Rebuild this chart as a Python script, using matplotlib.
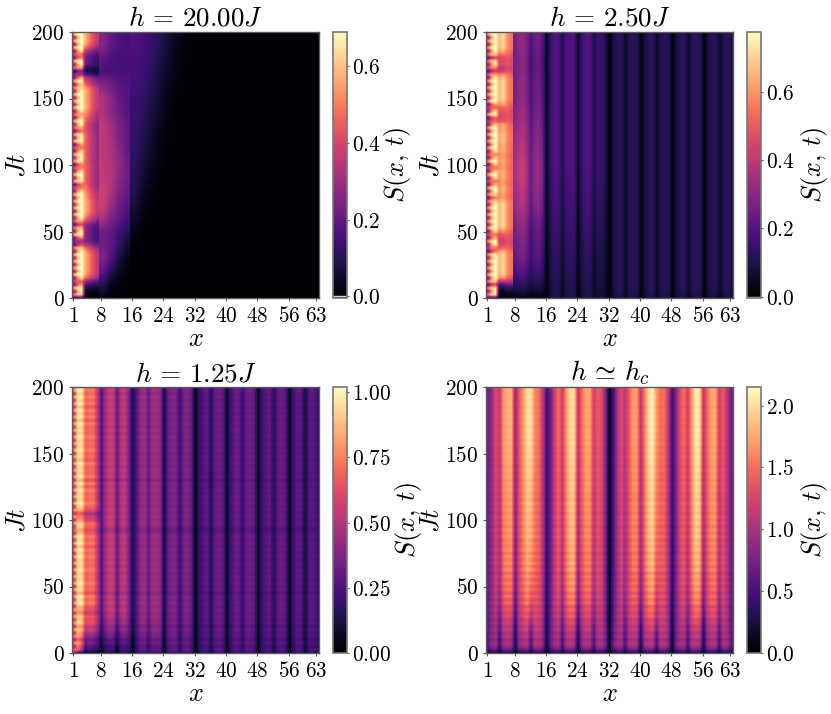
import numpy as np
import matplotlib
matplotlib.use("Agg")
import matplotlib.pyplot as plt
from matplotlib.cm import ScalarMappable
from matplotlib.colors import Normalize
from matplotlib.ticker import FormatStrFormatter

plt.rcParams['mathtext.fontset'] = 'cm'
plt.rcParams['font.family'] = 'DejaVu Sans'

titles = [r'$h\,=\,20.00J$', r'$h\,=\,2.50J$', r'$h\,=\,1.25J$', r'$h\,\simeq\,h_c$']
x_ticks = [1, 8, 16, 24, 32, 40, 48, 56, 63]
t_ticks = [0, 50, 100, 150, 200]
vmaxes = [0.69, 0.775, 1.02, 2.15]
cbar_ticks = [[0, .2, .4, .6], [0, .2, .4, .6], [0, .25, .5, .75, 1.0], [0, .5, 1, 1.5, 2]]
cbar_fmt = ['$%.1f$', '$%.1f$', '$%.2f$', '$%.1f$']
cbar_label_x = [3.5, 3.72, 4.3, 3.72]

# rows every 2.5 Jt: fast oscillation at the edge site
comb = [.60,1,.40,1,.42,1,.38,1,.42,1,
        .40,1,.42,1,.38,1,.42,1,.40,1,
        .38,1,.42,1,.40,1,.38,1,.42,1,
        .40,1,.42,1,.38,1,.40,1,.42,1,
        .38,1,.42,1,.40,1,.38,1,.42,1,
        .40,1,.42,1,.38,1,.40,1,.42,1,
        .38,1,.42,1,.40,1,.38,1,.42,1,
        .40,1,.42,1,.38,1,.40,1,.42,1,.8]

# Panel 1, sites 1-7
blob1 = [.20,.90,1,1,.80,.65,.95,1,1,1,
         1,1,1,1,1,.90,.60,.45,.75,1,
         1,.85,.60,.80,1,1,1,1,1,1,
         1,1,.95,.70,.70,.95,1,1,.95,.70,
         .75,.95,1,1,.90,.70,.80,1,1,.95,
         .70,.80,1,1,.90,.80,.95,1,1,1,
         1,1,1,.90,.90,1,.85,.45,.40,.80,
         1,1,.75,.70,.95,1,1,1,1,1,.95]
wide1 = [.02,.05,.08,.15,.30,.50,.80,.95,1,1,
         1,1,1,1,.95,.80,.60,.45,.45,.45,
         .45,.45,.50,.70,.85,.95,1,1,1,1,
         .95,.95,.90,.85,.80,.80,.80,.80,.80,.80,
         .80,.78,.80,.78,.80,.78,.80,.78,.80,.78,
         .75,.75,.75,.80,.85,.90,.95,1,1,1,
         1,1,1,.95,.80,.70,.60,.30,.15,.20,
         .35,.40,.40,.45,.60,.80,.95,1,1,1,1]
peak1 = [.56, .69, .69, .58, .50, .42, .36]
floor1 = [0, 0, 0, 0]

# Panel 1, sites 8-15 and 16-31, rows every 10 Jt
outer1a = [[.02,.00,.00,.00],[.10,.03,.01,.00],[.20,.10,.04,.01],[.26,.18,.08,.03],
           [.22,.20,.12,.06],[.22,.20,.15,.10],[.33,.25,.20,.15],[.38,.30,.22,.18],
           [.38,.33,.25,.20],[.36,.34,.27,.22],[.36,.34,.28,.22],[.36,.33,.27,.20],
           [.36,.32,.25,.20],[.36,.30,.24,.20],[.33,.27,.22,.18],[.33,.27,.20,.18],
           [.26,.22,.19,.17],[.16,.16,.16,.16],[.20,.17,.16,.16],[.26,.20,.17,.16],
           [.26,.20,.17,.16]]
outer1b = [[0,0,0,0,0,0],[0,0,0,0,0,0],[0,0,0,0,0,0],[0,0,0,0,0,0],
           [.01,0,0,0,0,0],[.03,0,0,0,0,0],[.05,.01,0,0,0,0],[.07,.02,0,0,0,0],
           [.09,.03,.01,0,0,0],[.10,.05,.01,0,0,0],[.11,.06,.02,0,0,0],[.12,.07,.03,.005,0,0],
           [.12,.08,.04,.01,0,0],[.13,.09,.05,.015,0,0],[.14,.10,.06,.02,0,0],[.14,.11,.07,.03,.005,0],
           [.15,.12,.08,.04,.01,0],[.15,.13,.09,.05,.02,0],[.16,.14,.10,.06,.025,.003],
           [.17,.14,.11,.07,.03,.005],[.17,.15,.12,.08,.035,.005]]

# Panel 2, sites 1-7
blob2 = [.20,.95,1,.95,.60,.90,1,1,1,1,
         1,1,1,.95,.70,.70,1,1,.85,.70,
         .95,1,1,1,1,1,1,1,1,.90,
         .75,.90,1,1,.85,.70,.95,1,.90,.70,
         .90,1,.90,.75,.95,1,1,1,1,1,
         1,1,.90,.65,.70,1,.95,.65,.80,1,
         1,1,1,1,1,1,1,.80,.55,.75,
         1,.90,.60,.90,1,1,1,1,1,1,.95]
wide2 = [.05,.10,.15,.25,.40,.70,.95,1,1,1,
         1,1,1,1,.90,.70,.60,.55,.60,.65,
         .80,.95,1,1,1,1,1,1,1,.95,
         .85,.85,.90,.90,.85,.85,.90,.90,.90,.85,
         .85,.90,.85,.85,.90,.90,.90,.95,.95,.95,
         .90,.90,.85,.65,.60,.60,.65,.70,.85,.95,
         1,1,1,1,1,1,.95,.80,.55,.50,
         .60,.60,.60,.75,.90,1,1,1,1,1,1]
onset2 = [.05,.10,.20,.35,.55,.75,.90,.97] + [1.0] * 73
peak2 = [.60, .77, .77, .66, .72, .60, .55]
floor2 = [.20, .10, .55, .60]

# Panel 2, sites 8-63
profile2 = [.32,.36,.38,.33,.22,.28,.30,.24,
            .04,.14,.20,.20,.10,.18,.20,.20,.05,.15,.20,.20,.10,.15,.15,.10,
            .015,.08,.11,.11,.05,.10,.11,.10,.015,.08,.11,.11,.05,.10,.11,.10,
            .015,.08,.11,.11,.05,.10,.11,.10,.015,.08,.11,.10,.05,.10,.11,.08]
gain2a = [.08,.35,.55,.70,.75,.80,.90,1,1.05,1.1,1.1,1.05,1,.95,.90,.85,.85,.80,.80,.85,.85]
gain2b = [.50,.55,.60,.65,.70,.75,.80,.85,.90,.95,1,1,1,1,1,1,1,1,1,1,1]
gain2c = [.90,1.1,1.1,1.1,1.1,1.1,1.1,1.1,1.1,1.1,1.1,1.1,1.1,1.1,1.1,1.1,1.1,1.1,1.1,1.1,1.1]

# Panel 3
late3 = [.78,.96,.96,.70,.72,.72,.55,.27,.44,.55,.55,.30,.50,.53,.38,.12,
         .27,.41,.45,.30,.45,.45,.41,.10,.32,.37,.37,.21,.35,.37,.30,.03,
         .20,.27,.30,.15,.30,.33,.30,.06,.22,.32,.32,.20,.32,.33,.30,.05,
         .22,.28,.30,.15,.30,.32,.28,.05,.22,.30,.28,.10,.27,.30,.22]
early3 = [.75,.80,.60,.15,.25,.20,.18,.02,.17,.20,.20,.03,.20,.22,.20,.03,
          .20,.30,.30,.20,.30,.30,.30,.03,.27,.32,.32,.18,.30,.32,.25,.03,
          .18,.25,.27,.13,.27,.30,.27,.05,.20,.29,.29,.18,.29,.30,.27,.04,
          .20,.25,.27,.13,.27,.29,.25,.04,.20,.27,.25,.09,.24,.27,.20]
rise3 = [0,.10,.20,.30,.35,.45,.55,.65,.75,.80,.85,.90,.95] + [1.0] * 68
ripple3 = [.70,.96,.86,1.0,.86,1.0,.96,1.04,.88,1.04,
           .96,1.04,.96,1.04,.96,1.04,.96,1.04,.88,1.04,
           .96,1.04,.96,1.04,.96,1.04,.96,1.04,.96,1.04,
           .96,1.04,.96,1.04,.96,1.04,.96,.86,.96,1.04,
           .96,1.04,.96,1.04,.96,1.04,.96,1.04,.96,1.04,
           .96,1.04,.88,1.04,.96,1.04,.96,1.04,.96,1.04,
           .96,1.04,.96,1.04,.96,1.04,.96,1.04,.96,1.04,
           .96,1.04,.96,1.04,.96,1.04,.96,1.04,.96,1.04,.96]
left3 = [.35,.9,1,1,.9,.95,1,1,1,1,
         1,.95,.85,.85,.95,1,1,1,1,.95,
         1,1,1,.95,1,1,1,.95,1,1,
         1,1,.95,1,1,1,.95,1,1,.95,
         .85,.75,.70,.85,1,1,1,.95,1,1,
         .95,1,1,1,1,.95,1,1,.95,.95,
         1,1,1,.95,1,1,1,.95,1,1,
         .95,1,1,1,.95,1,1,1,1,1,1]

# Panel 4
late4 = [.70,.90,1.30,1.15,1.70,1.80,1.80,.90,1.40,1.70,2.00,2.00,1.60,1.50,1.10,.45,
         .70,1.20,1.50,1.20,1.70,2.00,2.00,1.10,1.50,1.75,1.75,1.20,1.40,1.30,.80,.10,
         .50,1.00,1.30,1.10,1.40,1.70,1.70,1.10,1.60,2.00,2.10,1.70,1.50,1.50,1.10,.45,
         .80,1.30,1.50,1.20,1.70,2.10,2.00,1.10,1.50,1.75,1.75,1.20,1.40,1.10,.70]
early4 = [.60,.85,.95,.45,.95,1.0,.90,.25,.90,1.0,1.05,.50,1.05,1.05,.85,.15,
          .70,.95,1.0,.50,1.0,1.05,1.0,.20,.90,1.0,1.0,.50,1.0,1.0,.75,.10,
          .70,.95,1.0,.50,1.0,1.05,1.0,.25,.95,1.05,1.05,.50,1.05,1.05,.85,.15,
          .75,.95,1.0,.50,1.0,1.05,1.0,.20,.90,1.0,1.0,.50,1.0,.95,.65]
rise4 = [0,0,0,.02,.05,.08,.12,.16,.20,.26,
         .32,.37,.41,.45,.49,.53,.56,.59,.62,.65,
         .66,.68,.70,.71,.73,.75,.76,.77,.77,.78,
         .79,.80,.81,.82,.83,.84,.85,.85,.85,.86,
         .86,.87,.87,.88,.88,.89,.89,.90,.90,.90,
         .91,.92,.92,.93,.94,.94,.95,.95,.96,.96,
         .97,.97,.98,.98,.99,.99,1,1,1,1,
         1,1,1,1,1,1,1,1,1,1,1]
ripple4 = [.30,.70,.95,1.05,.90,1.05,.92,1.06,.94,1.05,
           .93,1.05,.95,1.04,.92,1.06,.94,1.05,.93,1.04,
           .95,1.05,.94,1.03,.93,1.05,.95,1.04,.96,1.03,
           .94,1.04,.96,1.02,.95,1.04,.96,1.03,.95,1.02,
           .97,1.03,.96,1.02,.97,1.03,.96,1.01,.97,1.02,
           .98,1.02,.97,1.01,.98,1.02,.97,1.01,.98,1.02,
           .98,1.01,.98,1.02,.98,1.01,.99,1.01,.98,1.01,
           .99,1.01,.99,1.01,.98,1.01,.99,1.01,.99,1.01,1.0]

cmap = 'magma'
X_LO, X_HI = 0.7, 63.7
DARK = '#5a5a5a'


def layer(ax, data, xl, xr, norm):
    a = np.asarray(data, float)
    dt = 200.0 / (a.shape[0] - 1)
    ax.imshow(a, origin='lower', aspect='auto', cmap=cmap, norm=norm, interpolation='bilinear',
              extent=(xl, xr, -dt / 2, 200 + dt / 2))


def left_sites(peak, floor, blob, wide):
    blob, wide, c = map(np.asarray, (blob, wide, comb))
    s = np.zeros((81, 7))
    s[:, 0] = peak[0] * blob * c
    s[:, 1] = peak[1] * blob * (.65 + .35 * c)
    s[:, 2] = peak[2] * blob
    for j in range(4):
        s[:, 3 + j] = peak[3 + j] * (floor[j] + (1 - floor[j]) * wide)
    return s


def mix(early, late, rise, ripple):
    early, late = np.asarray(early), np.asarray(late)
    r = np.asarray(rise)[:, None]
    return (early + r * (late - early)) * np.asarray(ripple)[:, None]


fig = plt.figure(figsize=(8.31, 7.14), dpi=100)
W, H = 831.0, 714.0
ax_px = [(72, 32), (486, 32), (72, 387), (486, 387)]
AW, AH = 247, 266
CW = 14
axes, caxes = [], []
for (l, t) in ax_px:
    axes.append(fig.add_axes([l / W, 1 - (t + AH) / H, AW / W, AH / H]))
    caxes.append(fig.add_axes([(l + AW + 14) / W, 1 - (t + AH) / H, CW / W, AH / H]))

norms = [Normalize(0, v) for v in vmaxes]
norms[0] = Normalize(-0.004, vmaxes[0])
norms[1] = Normalize(-0.004, vmaxes[1])

# panel 1
ax = axes[0]
ax.set_facecolor(matplotlib.colormaps[cmap](0))
layer(ax, left_sites(peak1, floor1, blob1, wide1), X_LO, 7.5, norms[0])
layer(ax, outer1a, 7.5, 15.5, norms[0])
layer(ax, outer1b, 15.5, 31.5, norms[0])

# panel 2
ax = axes[1]
s2 = left_sites(peak2, floor2, blob2, wide2)
s2[:, 3:] *= np.asarray(onset2)[:, None]
layer(ax, s2, X_LO, 7.5, norms[1])
p2 = np.asarray(profile2)
g2 = np.concatenate([np.outer(gain2a, p2[:8]), np.outer(gain2b, p2[8:24]), np.outer(gain2c, p2[24:])], axis=1)
layer(ax, g2, 7.5, X_HI, norms[1])

# panel 3
s3 = mix(early3, late3, rise3, ripple3)
s3[:, 0] *= .35 + .65 * np.asarray(comb)
s3[:, 1:7] *= np.asarray(left3)[:, None]
layer(axes[2], s3, X_LO, X_HI, norms[2])

# panel 4
layer(axes[3], mix(early4, late4, rise4, ripple4), X_LO, X_HI, norms[3])

for i, ax in enumerate(axes):
    ax.set_xlim(X_LO, X_HI)
    ax.set_ylim(0, 200)
    ax.set_xticks(x_ticks)
    ax.set_xticklabels([f'${v}$' for v in x_ticks])
    ax.set_yticks(t_ticks)
    ax.set_yticklabels([f'${v}$' for v in t_ticks])
    ax.tick_params(labelsize=15.3, length=2.5, width=0.8, color=DARK, pad=3)
    ax.set_xlabel('$x$', fontsize=19, labelpad=0)
    ax.set_ylabel('$Jt$', fontsize=19)
    ax.yaxis.set_label_coords(-0.17, 0.5)
    ax.set_title(titles[i], fontsize=19.5, pad=3)
    for sp in ax.spines.values():
        sp.set_color(DARK)
        sp.set_linewidth(1.0)
    cb = fig.colorbar(ScalarMappable(norm=norms[i], cmap=cmap), cax=caxes[i])
    cb.set_ticks(cbar_ticks[i])
    cb.ax.yaxis.set_major_formatter(FormatStrFormatter(cbar_fmt[i]))
    cb.ax.tick_params(labelsize=15.3, length=1.5, width=0.8, color=DARK, pad=2)
    cb.outline.set_edgecolor('#777777')
    cb.outline.set_linewidth(1.2)
    cb.set_label(r'$S(x,\,t)$', fontsize=19)
    cb.ax.yaxis.set_label_coords(cbar_label_x[i], 0.5)
    if i < 2:
        cb.ax.axhline(0.0, color='#cfcfcf', lw=1.0)

fig.savefig('out.png', dpi=100)
